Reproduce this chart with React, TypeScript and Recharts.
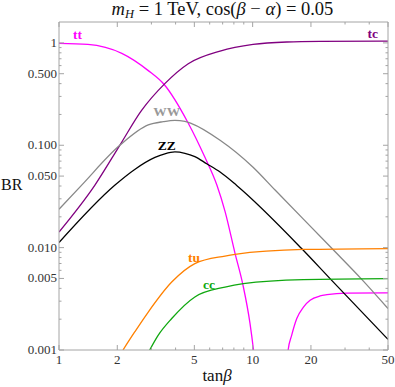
import React from 'react';
import { LineChart, Line, XAxis, YAxis } from 'recharts';

// ---------- data ----------
const ttX = [1, 1.41, 2.11, 2.88, 3.5, 4.63, 5.67, 6.54, 7.2, 8.11, 8.92, 9.69, 10.1, 10.3];
const ttY = [0.99, 0.967, 0.79, 0.539, 0.39, 0.167, 0.0762, 0.0406, 0.0226, 0.0088, 0.00428, 0.00182, 0.001, 0.00071];

const tt2X = [14.9, 15.25, 15.9, 16.9, 18.3, 19.8, 22.3, 24.2, 30.6, 50];
const tt2Y = [0.00063, 0.001, 0.00139, 0.00203, 0.00263, 0.00306, 0.00337, 0.00347, 0.0036, 0.00362];

const tcX = [1, 1.53, 2.06, 2.67, 3.52, 4.65, 6.79, 10.05, 15, 22.3, 50];
const tcY = [0.0142, 0.0406, 0.0998, 0.219, 0.4, 0.626, 0.832, 0.967, 1.02, 1.034, 1.04];

const wwX = [1, 1.306, 2.06, 2.89, 3.45, 3.97, 4.47, 4.84, 6.79, 10.05, 13.06, 25.7, 36.7, 50];
const wwY = [0.0237, 0.0406, 0.0998, 0.158, 0.17, 0.175, 0.171, 0.163, 0.112, 0.061, 0.0365, 0.0098, 0.00487, 0.00254];

const zzX = [1, 1.94, 2.46, 3.13, 3.52, 3.97, 4.47, 5.03, 5.79, 6.79, 8.27, 17.9, 25.1, 50];
const zzY = [0.0112, 0.0406, 0.058, 0.076, 0.0825, 0.086, 0.0835, 0.0775, 0.066, 0.0547, 0.0405, 0.0098, 0.00498, 0.00127];

const tuX = [2.14, 2.46, 2.89, 3.82, 5.03, 7.2, 8.11, 18.3, 50];
const tuY = [0.001, 0.0015, 0.00235, 0.00461, 0.00698, 0.00828, 0.0086, 0.0096, 0.0098];

const ccX = [2.94, 3.25, 3.82, 5.03, 7.2, 8.95, 18.3, 50];
const ccY = [0.001, 0.00139, 0.00203, 0.0033, 0.00412, 0.00445, 0.00487, 0.00498];

const xMajorTicks = [1, 2, 5, 10, 20, 50];
const xMinorTicks = [3, 4, 6, 7, 8, 9, 30, 40];
const yMajorTicks = [0.001, 0.005, 0.01, 0.05, 0.1, 0.5, 1];
const yTickLabels = ['0.001', '0.005', '0.010', '0.050', '0.100', '0.500', '1'];
const yMinorTicks = [
  0.002, 0.003, 0.004, 0.006, 0.007, 0.008, 0.009,
  0.02, 0.03, 0.04, 0.06, 0.07, 0.08, 0.09,
  0.2, 0.3, 0.4, 0.6, 0.7, 0.8, 0.9,
];

const xDomain = [1, 50];
const yDomain = [0.001, 1.6];

// ---------- styling ----------
const W = 395;
const H = 387;
const PLOT = { top: 22, right: 7, bottom: 37, left: 59 };
const FRAME = '#a4a4a4';
const SERIF = '"Liberation Serif", "Times New Roman", serif';
const TICK_TEXT = '#333';

const pts = (xs: number[], ys: number[]) => xs.map((x, i) => ({ x, y: ys[i] }));

const series = [
  { name: 'tt', data: pts(ttX, ttY), color: '#ff00ff' },
  { name: 'tt2', data: pts(tt2X, tt2Y), color: '#ff00ff' },
  { name: 'tc', data: pts(tcX, tcY), color: '#800080' },
  { name: 'WW', data: pts(wwX, wwY), color: '#888888' },
  { name: 'ZZ', data: pts(zzX, zzY), color: '#000000' },
  { name: 'tu', data: pts(tuX, tuY), color: '#ff8000' },
  { name: 'cc', data: pts(ccX, ccY), color: '#10a810' },
];

const makeXTick = (side: 'bottom' | 'top', withLabels: boolean) => (props: any) => {
  const { x, y, payload } = props;
  const v = payload.value;
  const major = xMajorTicks.includes(v);
  const len = major ? 5 : 2.5;
  const dir = side === 'bottom' ? -1 : 1;
  return (
    <g>
      <line x1={x} x2={x} y1={y} y2={y + dir * len} stroke={FRAME} strokeWidth={1} />
      {withLabels && major && (
        <text x={x} y={y + 14} textAnchor="middle" fontFamily={SERIF} fontSize={13} fill={TICK_TEXT}>
          {String(v)}
        </text>
      )}
    </g>
  );
};

const makeYTick = (side: 'left' | 'right', withLabels: boolean) => (props: any) => {
  const { x, y, payload } = props;
  const v = payload.value;
  const idx = yMajorTicks.indexOf(v);
  const major = idx >= 0;
  const len = major ? 5 : 2.5;
  const dir = side === 'left' ? 1 : -1;
  return (
    <g>
      <line x1={x} x2={x + dir * len} y1={y} y2={y} stroke={FRAME} strokeWidth={1} />
      {withLabels && major && (
        <text x={x - 2} y={y + 4} textAnchor="end" fontFamily={SERIF} fontSize={13} fill={TICK_TEXT}>
          {yTickLabels[idx]}
        </text>
      )}
    </g>
  );
};

const seriesLabels = [
  { text: 'tt', x: 77.5, y: 39, color: '#ff00ff' },
  { text: 'tc', x: 372.7, y: 37.5, color: '#800080' },
  { text: 'WW', x: 166.7, y: 116, color: '#999999' },
  { text: 'ZZ', x: 166.7, y: 149.5, color: '#000000' },
  { text: 'tu', x: 194, y: 262.3, color: '#ff8000' },
  { text: 'cc', x: 209, y: 289, color: '#10a810' },
];

export default function App() {
  const xTicks = [...xMajorTicks, ...xMinorTicks];
  const yTicks = [...yMajorTicks, ...yMinorTicks];
  return (
    <div style={{ position: 'relative', width: W, height: H }}>
      <style>{`body{margin:0;}`}</style>
      <LineChart width={W} height={H} margin={{ top: 0, right: 0, bottom: 0, left: 0 }}>
        <XAxis
          xAxisId="b"
          type="number"
          dataKey="x"
          scale="log"
          domain={xDomain}
          allowDataOverflow
          ticks={xTicks}
          interval={0}
          height={PLOT.bottom}
          tickSize={0}
          tickMargin={0}
          tickLine={false}
          axisLine={{ stroke: FRAME }}
          tick={makeXTick('bottom', true)}
        />
        <XAxis
          xAxisId="t"
          orientation="top"
          type="number"
          dataKey="x"
          scale="log"
          domain={xDomain}
          allowDataOverflow
          ticks={xTicks}
          interval={0}
          height={PLOT.top}
          tickSize={0}
          tickMargin={0}
          tickLine={false}
          axisLine={{ stroke: FRAME }}
          tick={makeXTick('top', false)}
        />
        <YAxis
          yAxisId="l"
          type="number"
          dataKey="y"
          scale="log"
          domain={yDomain}
          allowDataOverflow
          ticks={yTicks}
          interval={0}
          width={PLOT.left}
          tickSize={0}
          tickMargin={0}
          tickLine={false}
          axisLine={{ stroke: FRAME }}
          tick={makeYTick('left', true)}
        />
        <YAxis
          yAxisId="r"
          orientation="right"
          type="number"
          dataKey="y"
          scale="log"
          domain={yDomain}
          allowDataOverflow
          ticks={yTicks}
          interval={0}
          width={PLOT.right}
          tickSize={0}
          tickMargin={0}
          tickLine={false}
          axisLine={{ stroke: FRAME }}
          tick={makeYTick('right', false)}
        />
        {series.map((s) => (
          <Line
            key={s.name}
            xAxisId="b"
            yAxisId="l"
            data={s.data}
            dataKey="y"
            type="monotone"
            stroke={s.color}
            strokeWidth={1.3}
            dot={false}
            activeDot={false}
            isAnimationActive={false}
          />
        ))}
      </LineChart>
      <svg
        width={W}
        height={H}
        style={{ position: 'absolute', left: 0, top: 0, pointerEvents: 'none' }}
      >
        <text x={222.5} y={15} textAnchor="middle" fontFamily={SERIF} fontSize={18.5} fill="#111">
          <tspan fontStyle="italic">m</tspan>
          <tspan fontStyle="italic" fontSize={12.5} dy={3}>H</tspan>
          <tspan dy={-3}> = 1 TeV, cos(</tspan>
          <tspan fontStyle="italic">β</tspan>
          <tspan> − </tspan>
          <tspan fontStyle="italic">α</tspan>
          <tspan>) = 0.05</tspan>
        </text>
        <text x={1} y={190} fontFamily={SERIF} fontSize={16} fill="#111">BR</text>
        <text x={217} y={381} textAnchor="middle" fontFamily={SERIF} fontSize={17} fill="#111">
          tan<tspan fontStyle="italic">β</tspan>
        </text>
        {seriesLabels.map((l) => (
          <text
            key={l.text}
            x={l.x}
            y={l.y}
            textAnchor="middle"
            fontFamily={SERIF}
            fontWeight="bold"
            fontSize={13.5}
            fill={l.color}
          >
            {l.text}
          </text>
        ))}
      </svg>
    </div>
  );
}
